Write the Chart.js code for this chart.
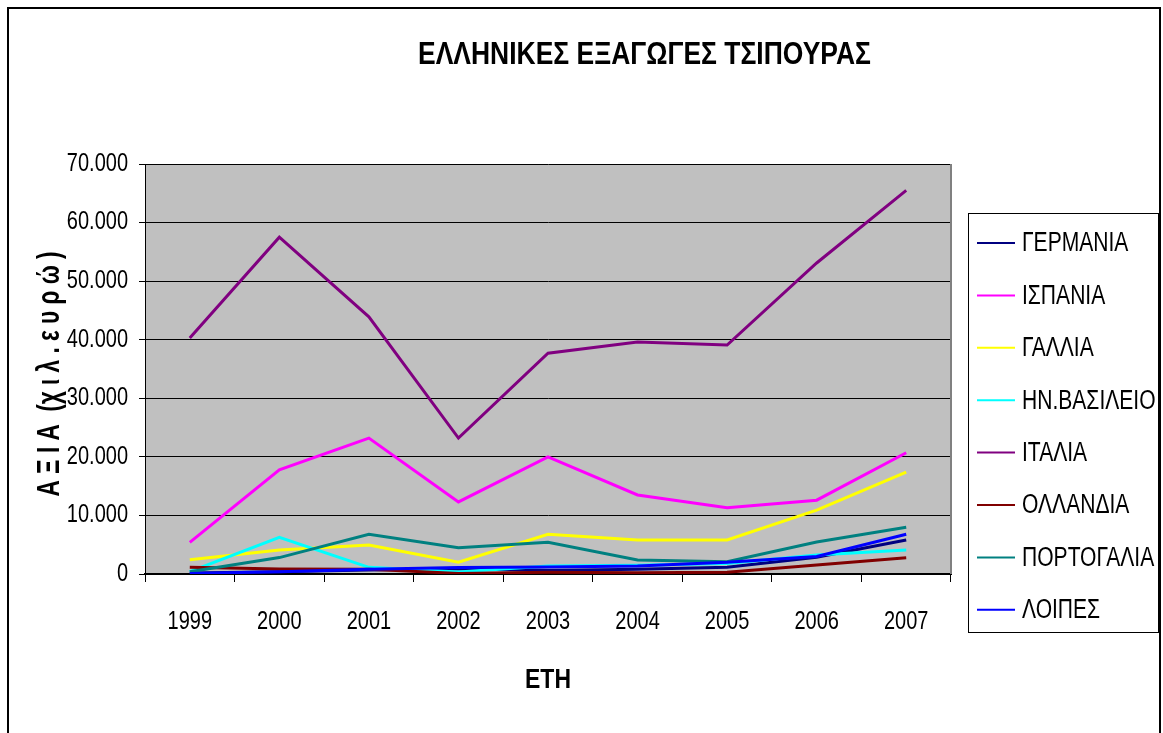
<!DOCTYPE html>
<html>
<head>
<meta charset="utf-8">
<script src="https://cdn.jsdelivr.net/npm/chart.js@4.4.1/dist/chart.umd.min.js"></script>
<style>
html,body{margin:0;padding:0;background:#fff;}
#wrap{width:1163px;height:733px;}
</style>
</head>
<body>
<div id="wrap"><canvas id="c" width="1163" height="733"></canvas></div>
<script>
const years = ['1999','2000','2001','2002','2003','2004','2005','2006','2007'];
const germany  = [150, 400, 700, 900, 600, 800, 1140, 2850, 5800];
const spain    = [5400, 17800, 23200, 12300, 20000, 13500, 11300, 12600, 20700];
const france   = [2440, 4100, 4950, 2000, 6780, 5800, 5800, 10900, 17400];
const uk       = [400, 6260, 1140, 350, 1370, 1500, 1800, 3240, 4100];
const italy    = [40300, 57500, 43900, 23200, 37700, 39600, 39100, 53100, 65500];
const holland  = [1140, 850, 800, 100, 300, 220, 300, 1540, 2790];
const portugal = [400, 2800, 6780, 4500, 5400, 2390, 2100, 5460, 7970];
const others   = [100, 400, 800, 1100, 1200, 1370, 2000, 3000, 6780];
const seriesNames = ['ΓΕΡΜΑΝΙΑ','ΙΣΠΑΝΙΑ','ΓΑΛΛΙΑ','ΗΝ.ΒΑΣΙΛΕΙΟ','ΙΤΑΛΙΑ','ΟΛΛΑΝΔΙΑ','ΠΟΡΤΟΓΑΛΙΑ','ΛΟΙΠΕΣ'];
const seriesValues = [germany, spain, france, uk, italy, holland, portugal, others];
const seriesColors = ['#000080','#FF00FF','#FFFF00','#00FFFF','#800080','#800000','#008080','#0000FF'];
const yTicks = [0, 10000, 20000, 30000, 40000, 50000, 60000, 70000];
const titleText = 'ΕΛΛΗΝΙΚΕΣ ΕΞΑΓΩΓΕΣ ΤΣΙΠΟΥΡΑΣ';
const yTitle = 'Α Ξ Ι Α  (χ ι λ . ε υ ρ ώ )';
const xTitle = 'ΕΤΗ';

const FONT = '"Liberation Sans",Arial,sans-serif';

function fmt(v){ return String(v).replace(/\B(?=(\d{3})+(?!\d))/g,'.'); }

// draws horizontally condensed text (emulating Arial Narrow)
function narrow(ctx, text, x, y, font, sx, align){
  ctx.save();
  ctx.font = font;
  ctx.textAlign = align || 'left';
  ctx.textBaseline = 'middle';
  ctx.translate(x, y);
  ctx.scale(sx, 1);
  ctx.fillText(text, 0, 0);
  ctx.restore();
}
function fitWidth(ctx, text, font, w){
  ctx.save(); ctx.font = font; const m = ctx.measureText(text).width; ctx.restore();
  return w / m;
}

const decor = {
  id:'decor',
  beforeDraw(chart){
    const ctx = chart.ctx, a = chart.chartArea;
    ctx.save();
    ctx.fillStyle = '#fff';
    ctx.fillRect(0,0,chart.width,chart.height);
    ctx.fillStyle = '#C0C0C0';
    ctx.fillRect(a.left,a.top,a.right-a.left,a.bottom-a.top);
    ctx.restore();
  },
  afterDraw(chart){
    const ctx = chart.ctx, a = chart.chartArea;
    ctx.save();
    ctx.fillStyle = '#000';
    // tick labels from the library's scales
    const ys = chart.scales.y, xs = chart.scales.x;
    ys.ticks.forEach((t,i)=>{
      narrow(ctx, fmt(t.value), 128, ys.getPixelForValue(t.value), '25px '+FONT, 0.8, 'right');
    });
    xs.ticks.forEach((t,i)=>{
      narrow(ctx, xs.getLabelForValue(t.value), xs.getPixelForTick(i), 622, '25px '+FONT, 0.8, 'center');
    });
    // plot right border
    ctx.strokeStyle = '#808080'; ctx.lineWidth = 2;
    ctx.beginPath(); ctx.moveTo(a.right, a.top); ctx.lineTo(a.right, a.bottom); ctx.stroke();
    // outer frame
    ctx.strokeStyle = '#000'; ctx.lineWidth = 2;
    ctx.strokeRect(8, 8, 1152, 740);
    // title
    const tf = 'bold 31px ' + FONT;
    narrow(ctx, titleText, 644.5, 55, tf, fitWidth(ctx, titleText, tf, 453), 'center');
    // x title
    narrow(ctx, xTitle, 548, 680, 'bold 28px ' + FONT, 0.82, 'center');
    // y title
    ctx.save();
    ctx.translate(50, 374);
    ctx.rotate(-Math.PI/2);
    const yf = 'bold 31px ' + FONT;
    narrow(ctx, yTitle, 0, 0, yf, fitWidth(ctx, yTitle, yf, 245), 'center');
    ctx.restore();
    // legend
    ctx.strokeStyle = '#000'; ctx.lineWidth = 1;
    ctx.strokeRect(968.5, 213.5, 190, 419);
    for (let i = 0; i < seriesNames.length; i++){
      const y = 243 + i*52.4;
      ctx.strokeStyle = seriesColors[i]; ctx.lineWidth = 2;
      ctx.beginPath(); ctx.moveTo(977, y); ctx.lineTo(1015, y); ctx.stroke();
      ctx.fillStyle = '#000';
      narrow(ctx, seriesNames[i], 1022, y+1, '27px ' + FONT, 0.78, 'left');
    }
    ctx.restore();
  }
};

new Chart(document.getElementById('c'), {
  type:'line',
  data:{
    labels: years,
    datasets: seriesNames.map((n,i)=>({
      label:n, data:seriesValues[i], borderColor:seriesColors[i], backgroundColor:seriesColors[i],
      borderWidth:3, pointRadius:0, tension:0, fill:false, order:-i
    }))
  },
  options:{
    responsive:false, animation:false, devicePixelRatio:1,
    layout:{padding:{left:0,right:212,top:164,bottom:0}},
    plugins:{legend:{display:false}, title:{display:false}, tooltip:{enabled:false}},
    scales:{
      x:{
        offset:true,
        grid:{offset:true, drawOnChartArea:false, drawTicks:true, tickLength:8, color:'#000', lineWidth:1},
        border:{display:true, color:'#000', width:2},
        ticks:{display:false},
        afterFit(s){ s.height = 159; }
      },
      y:{
        min:0, max:70000,
        afterBuildTicks(s){ s.ticks = yTicks.map(v=>({value:v})); },
        grid:{color:'#000', lineWidth:1, drawTicks:true, tickLength:6},
        border:{display:true, color:'#000', width:1},
        ticks:{display:false},
        afterFit(s){ s.width = 145; }
      }
    }
  },
  plugins:[decor]
});
</script>
</body>
</html>
